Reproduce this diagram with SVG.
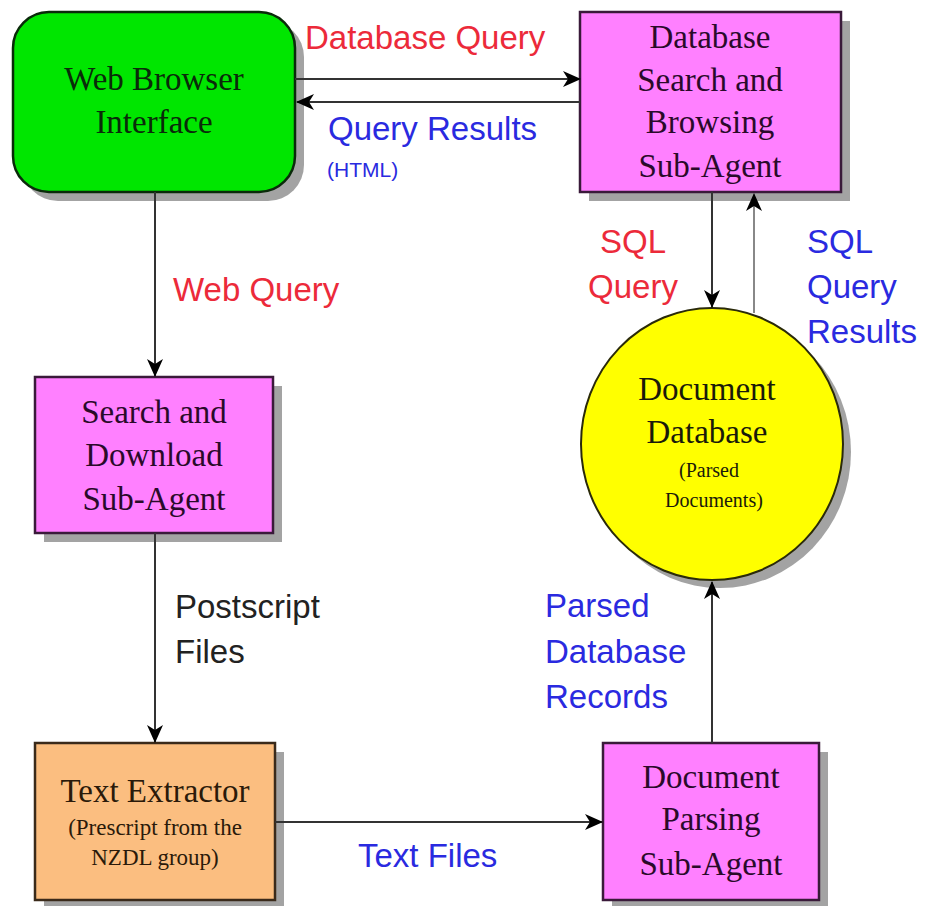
<svg xmlns="http://www.w3.org/2000/svg" width="925" height="906" viewBox="0 0 925 906">
<style>
.shadow{fill:#a3a3a3}
.serif{font-family:"Liberation Serif","Times New Roman",serif;text-anchor:middle}
.big{font-size:33px}
.small{font-size:23px}
.lbl{font-family:"Liberation Sans",Arial,sans-serif;font-size:33px}
.red{fill:#ec2a3a}
.blue{fill:#2a2ae0}
.blk{fill:#222}
.conn{stroke:#333;stroke-width:2;fill:none}
.pink{fill:#ff80ff;stroke:#3a1a3a;stroke-width:2.5}
.ptext{fill:#2a0a2a}
</style>
<defs>
<marker id="ah" viewBox="0 0 18 16" refX="17" refY="8" markerWidth="18" markerHeight="16" markerUnits="userSpaceOnUse" orient="auto">
<path d="M0,0 L18,8 L0,16 L5,8 z" fill="#000"/>
</marker>
</defs>
<rect width="925" height="906" fill="#fff"/>

<g id="web-browser">
<rect class="shadow" x="22" y="21" width="282" height="180" rx="36"/>
<rect x="13" y="12" width="282" height="180" rx="36" fill="#00e600" stroke="#0a2a0a" stroke-width="2.5"/>
<text class="serif big" fill="#0a2a0a" x="154" y="90">Web Browser</text>
<text class="serif big" fill="#0a2a0a" x="154" y="133">Interface</text>
</g>

<g id="db-search">
<rect class="shadow" x="589" y="21" width="261" height="180"/>
<rect class="pink" x="580" y="12" width="261" height="180"/>
<text class="serif big ptext" x="710" y="48">Database</text>
<text class="serif big ptext" x="710" y="91">Search and</text>
<text class="serif big ptext" x="710" y="133">Browsing</text>
<text class="serif big ptext" x="710" y="177">Sub-Agent</text>
</g>

<g id="search-download">
<rect class="shadow" x="44" y="386" width="238" height="156"/>
<rect class="pink" x="35" y="377" width="238" height="156"/>
<text class="serif big ptext" x="154" y="423">Search and</text>
<text class="serif big ptext" x="154" y="466">Download</text>
<text class="serif big ptext" x="154" y="510">Sub-Agent</text>
</g>

<g id="text-extractor">
<rect class="shadow" x="44" y="752" width="240" height="157"/>
<rect x="35" y="743" width="240" height="157" fill="#fbbe80" stroke="#3a2a1a" stroke-width="2.5"/>
<text class="serif big" fill="#2a1a0a" x="155" y="802">Text Extractor</text>
<text class="serif small" fill="#2a1a0a" x="155" y="835">(Prescript from the</text>
<text class="serif small" fill="#2a1a0a" x="155" y="865">NZDL group)</text>
</g>

<g id="doc-parsing">
<rect class="shadow" x="612" y="752" width="216" height="157"/>
<rect class="pink" x="603" y="743" width="216" height="157"/>
<text class="serif big ptext" x="711" y="788">Document</text>
<text class="serif big ptext" x="711" y="830">Parsing</text>
<text class="serif big ptext" x="711" y="875">Sub-Agent</text>
</g>

<g id="doc-database">
<ellipse class="shadow" cx="720" cy="452" rx="131" ry="136"/>
<ellipse cx="712" cy="444" rx="131" ry="136" fill="#ffff00" stroke="#2a2a0a" stroke-width="2"/>
<text class="serif big" fill="#1a1a0a" x="707" y="400">Document</text>
<text class="serif big" fill="#1a1a0a" x="707" y="443">Database</text>
<text class="serif" font-size="20" fill="#1a1a0a" x="709" y="477">(Parsed</text>
<text class="serif" font-size="20" fill="#1a1a0a" x="714" y="507">Documents)</text>
</g>

<g id="connectors">
<line class="conn" x1="295" y1="79" x2="580" y2="79" marker-end="url(#ah)"/>
<line class="conn" x1="580" y1="102" x2="297" y2="102" marker-end="url(#ah)"/>
<line class="conn" x1="155" y1="192" x2="155" y2="376" marker-end="url(#ah)"/>
<line class="conn" x1="155" y1="533" x2="155" y2="742" marker-end="url(#ah)"/>
<line class="conn" x1="275" y1="822" x2="602" y2="822" marker-end="url(#ah)"/>
<line class="conn" x1="712" y1="743" x2="712" y2="582" marker-end="url(#ah)"/>
<line class="conn" x1="712" y1="192" x2="712" y2="307" marker-end="url(#ah)"/>
<line x1="754" y1="313" x2="754" y2="194" stroke="#888" stroke-width="2" marker-end="url(#ah)"/>
</g>

<g id="labels">
<text class="lbl red" x="305" y="49">Database Query</text>
<text class="lbl blue" x="328" y="140">Query Results</text>
<text class="blue" font-family="Liberation Sans,Arial,sans-serif" font-size="21" x="327" y="177">(HTML)</text>
<text class="lbl red" x="173" y="301">Web Query</text>
<text class="lbl blk" x="175" y="618">Postscript</text>
<text class="lbl blk" x="175" y="663">Files</text>
<text class="lbl blue" x="545" y="617">Parsed</text>
<text class="lbl blue" x="545" y="663">Database</text>
<text class="lbl blue" x="545" y="708">Records</text>
<text class="lbl blue" font-size="31" x="358" y="867">Text Files</text>
<text class="lbl red" text-anchor="middle" x="633" y="253">SQL</text>
<text class="lbl red" text-anchor="middle" x="633" y="298">Query</text>
<text class="lbl blue" x="807" y="253">SQL</text>
<text class="lbl blue" x="807" y="298">Query</text>
<text class="lbl blue" x="807" y="343">Results</text>
</g>
</svg>
